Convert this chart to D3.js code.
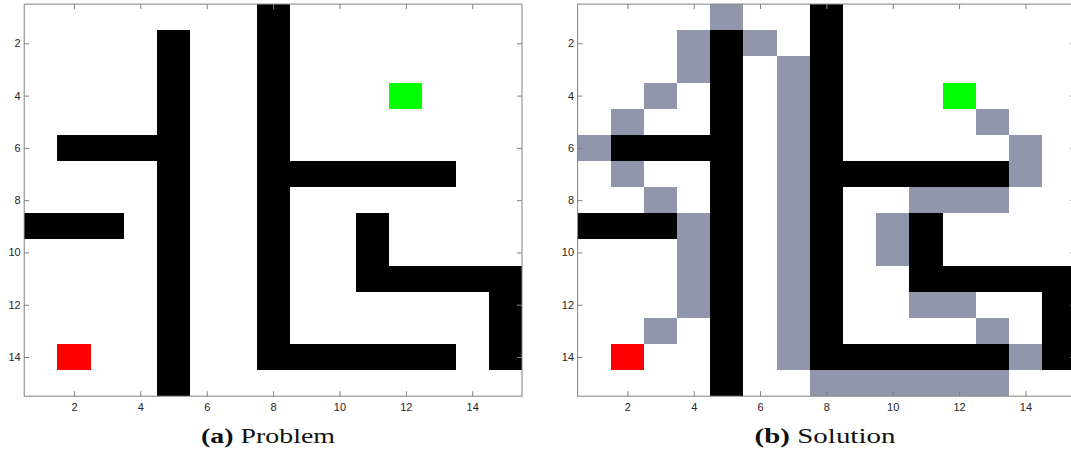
<!DOCTYPE html>
<html>
<head>
<meta charset="utf-8">
<script src="https://cdn.jsdelivr.net/npm/d3@7"></script>
<style>
  html, body { margin: 0; padding: 0; background: #fff; }
  svg { display: block; }
  .caption { font-family: "Liberation Serif", "Times New Roman", "DejaVu Serif", serif; font-size: 20px; fill: #111; }
  .tick text { font-family: "Liberation Sans", Arial, sans-serif; font-size: 11px; }
</style>
</head>
<body>
<svg id="chart" width="1071" height="452"></svg>
<script>
// Maze layout: one string per row (row 1 at top), '#' marks a wall cell.
const mazeRows = [
  ".......#.......",
  "....#..#.......",
  "....#..#.......",
  "....#..#.......",
  "....#..#.......",
  ".####..#.......",
  "....#..######..",
  "....#..#.......",
  "###.#..#..#....",
  "....#..#..#....",
  "....#..#..#####",
  "....#..#......#",
  "....#..#......#",
  "....#..######.#",
  "....#.........."
];

// Start and goal cells as [column, row].
const startCell = [2, 14];
const goalCell = [12, 4];

// Cells visited by the solver, as [column, row].
const solutionCells = [
  [5, 1], [4, 2], [6, 2], [4, 3],
  [7, 3], [7, 4], [7, 5], [7, 6], [7, 7], [7, 8], [7, 9], [7, 10],
  [7, 11], [7, 12], [7, 13], [7, 14],
  [3, 4], [2, 5], [1, 6], [2, 7], [3, 8],
  [4, 9], [4, 10], [4, 11], [4, 12], [3, 13],
  [13, 5], [14, 6], [14, 7], [11, 8], [12, 8], [13, 8],
  [10, 9], [10, 10], [11, 12], [12, 12], [13, 13], [14, 14],
  [8, 15], [9, 15], [10, 15], [11, 15], [12, 15], [13, 15]
];

const tickValues = [2, 4, 6, 8, 10, 12, 14];
const captions = [
  { tag: "(a)", text: "Problem" },
  { tag: "(b)", text: "Solution" }
];

const colors = {
  wall: "#000000",
  path: "#9097ad",
  start: "#ff0000",
  goal: "#00ff00",
  frame: "#808080",
  tickText: "#262626"
};

const wallCells = [];
mazeRows.forEach((row, r) => {
  row.split("").forEach((ch, c) => {
    if (ch === "#") wallCells.push([c + 1, r + 1]);
  });
});

const svg = d3.select("#chart");

const panels = [
  { left: 24.2, right: 522.0, showPath: false, caption: captions[0], captionX: 268, captionWidth: 134 },
  { left: 577.6, right: 1075.2, showPath: true, caption: captions[1], captionX: 825, captionWidth: 141 }
];
const plotTop = 4.1, plotBottom = 396.2;

panels.forEach(p => {
  const x = d3.scaleLinear().domain([0.5, 15.5]).range([p.left, p.right]);
  const y = d3.scaleLinear().domain([0.5, 15.5]).range([plotTop, plotBottom]);
  const g = svg.append("g");

  const drawCells = (cells, fill) => {
    g.append("g").selectAll("rect").data(cells).join("rect")
      .attr("x", d => x(d[0] - 0.5))
      .attr("y", d => y(d[1] - 0.5))
      .attr("width", d => x(d[0] + 0.5) - x(d[0] - 0.5))
      .attr("height", d => y(d[1] + 0.5) - y(d[1] - 0.5))
      .attr("fill", fill)
      .attr("shape-rendering", "crispEdges");
  };

  g.append("rect")
    .attr("x", x(0.5)).attr("y", y(0.5))
    .attr("width", x(15.5) - x(0.5)).attr("height", y(15.5) - y(0.5))
    .attr("fill", "#fff");

  drawCells(wallCells, colors.wall);
  if (p.showPath) drawCells(solutionCells, colors.path);
  drawCells([startCell], colors.start);
  drawCells([goalCell], colors.goal);

  // Frame
  g.append("rect")
    .attr("x", x(0.5)).attr("y", y(0.5))
    .attr("width", x(15.5) - x(0.5)).attr("height", y(15.5) - y(0.5))
    .attr("fill", "none")
    .attr("stroke", colors.frame)
    .attr("stroke-width", 1);

  const styleAxis = sel => {
    sel.select(".domain").remove();
    sel.attr("font-family", null).attr("font-size", null);
    sel.selectAll(".tick line").attr("stroke", colors.frame);
    sel.selectAll(".tick text").attr("fill", colors.tickText);
  };

  g.append("g").attr("transform", `translate(0,${plotBottom})`)
    .call(d3.axisBottom(x).tickValues(tickValues).tickSizeInner(-5).tickSizeOuter(0).tickPadding(7.5).tickFormat(d3.format("d")))
    .call(styleAxis);
  g.append("g").attr("transform", `translate(0,${plotTop})`)
    .call(d3.axisTop(x).tickValues(tickValues).tickSizeInner(-5).tickSizeOuter(0).tickFormat(""))
    .call(styleAxis);
  g.append("g").attr("transform", `translate(${p.left},0)`)
    .call(d3.axisLeft(y).tickValues(tickValues).tickSizeInner(-5).tickSizeOuter(0).tickPadding(3.5).tickFormat(d3.format("d")))
    .call(styleAxis);
  g.append("g").attr("transform", `translate(${p.right},0)`)
    .call(d3.axisRight(y).tickValues(tickValues).tickSizeInner(-5).tickSizeOuter(0).tickFormat(""))
    .call(styleAxis);

  // Caption, widened horizontally like the stretched grid cells
  const cap = svg.append("text")
    .attr("class", "caption")
    .attr("text-anchor", "middle");
  cap.append("tspan").attr("font-weight", "bold").text(p.caption.tag);
  cap.append("tspan").text("\u00a0" + p.caption.text);
  const len = cap.node().getComputedTextLength();
  const sx = len > 0 ? p.captionWidth / len : 1.4;
  cap.attr("transform", `translate(${p.captionX},443) scale(${sx},1)`);
});
</script>
</body>
</html>
